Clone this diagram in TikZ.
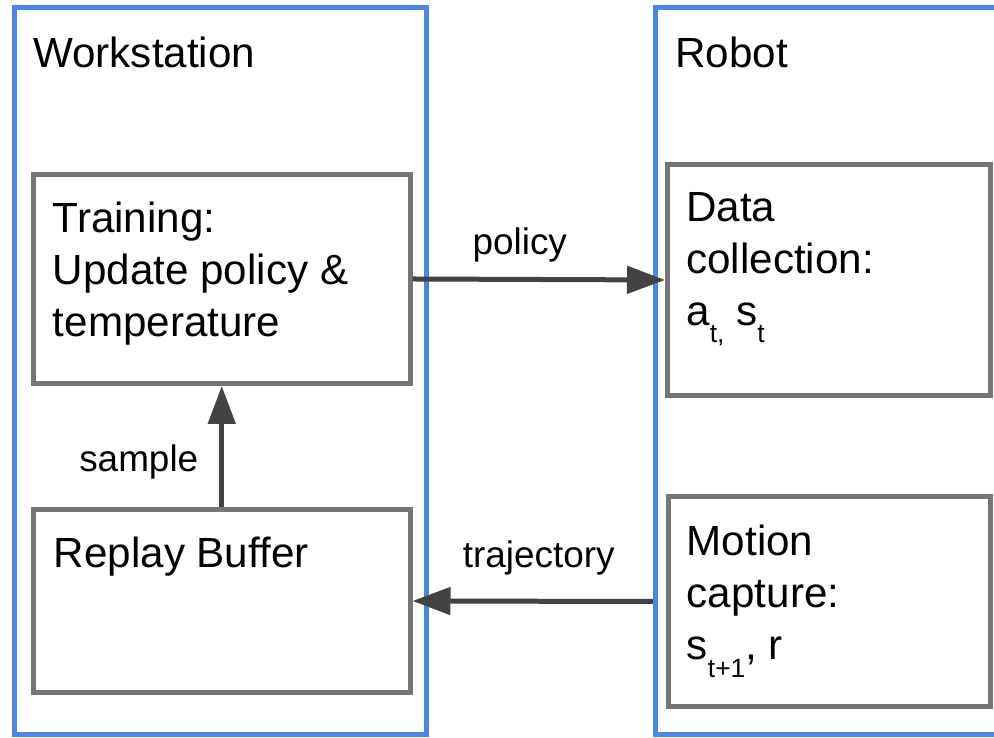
\documentclass[tikz,border=0pt]{standalone}
\usepackage{fontspec}
\setmainfont{Liberation Sans}
\usepackage{tikz}
\usetikzlibrary{positioning,arrows.meta}

\definecolor{hostblue}{HTML}{4A86E8}
\definecolor{boxgray}{HTML}{767676}
\definecolor{arrowgray}{HTML}{434343}

\newcommand{\lowsub}[1]{\raisebox{-10pt}{\fontsize{15}{15}\selectfont #1}}

\tikzset{
  host/.style={draw=hostblue, line width=0.1cm, rectangle},
  stage/.style={draw=boxgray, line width=0.1cm, rectangle},
  boxtext/.style={inner sep=0, align=left, font=\fontsize{24}{29.5}\selectfont},
  lbl/.style={inner sep=0, font=\fontsize{21}{24}\selectfont},
  flow/.style={draw=arrowgray, line width=0.1cm, -{Triangle[length=0.76cm,width=0.54cm]}}
}

\begin{document}
\begin{tikzpicture}
  \useasboundingbox (0,0) rectangle (19.88,14.76);
  \clip (0,0) rectangle (19.88,14.76);

  % the two machines
  \node[host, minimum width=8.23cm, minimum height=14.54cm] (ws) at (4.415,7.34) {};
  \node[host, minimum width=7.39cm, minimum height=14.54cm] (robot) at (16.805,7.34) {};
  \node[boxtext, below right=0.64cm and 0.41cm of ws.north west] (wslabel) {Workstation};
  \node[boxtext, below right=0.64cm and 0.44cm of robot.north west] (robotlabel) {Robot};

  % stages on the workstation
  \node[stage, minimum width=7.53cm, minimum height=4.18cm] (train) at (4.435,9.18) {};
  \node[stage, minimum width=7.53cm, minimum height=3.66cm] (replay) at (4.435,2.74) {};
  \node[boxtext, below right=0.60cm and 0.43cm of train.north west] (traintext)
    {Training:\\Update policy \&\\temperature};
  \node[boxtext, below right=0.60cm and 0.45cm of replay.north west] (replaytext) {Replay Buffer};

  % stages on the robot
  \node[stage, minimum width=6.46cm, minimum height=4.62cm] (datacol) at (16.58,9.16) {};
  \node[stage, minimum width=6.45cm, minimum height=4.20cm] (mocap) at (16.585,2.73) {};
  \node[boxtext, below right=0.60cm and 0.42cm of datacol.north west] (datatext)
    {Data\\collection:\\a\lowsub{t,} s\lowsub{t}};
  \node[boxtext, below right=0.62cm and 0.42cm of mocap.north west] (mocaptext)
    {Motion\\capture:\\s\lowsub{t+1}, r};

  % data flow
  \draw[flow] (train.east) -- node[lbl, anchor=base, yshift=0.5cm, xshift=-0.38cm] (pollbl) {policy} (datacol.west);
  \draw[flow] (robot.west |- mocap.west) -- node[lbl, anchor=base, yshift=0.68cm, xshift=0.12cm] (trajlbl) {trajectory} (replay.east);
  \draw[flow] (replay.north) -- node[lbl, anchor=base east, yshift=-0.51cm, xshift=-0.42cm] (samplbl) {sample} (train.south);
\end{tikzpicture}
\end{document}
